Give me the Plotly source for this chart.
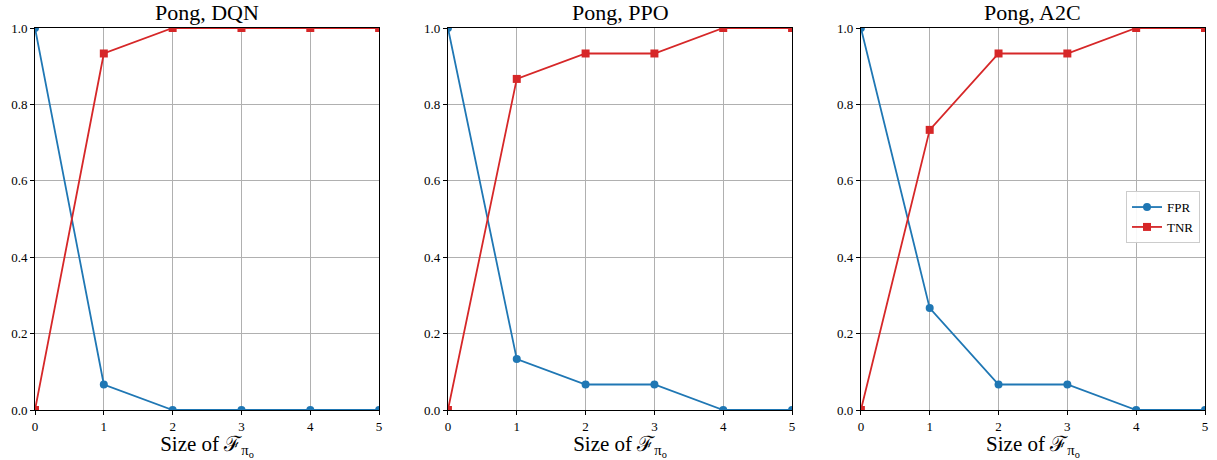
import plotly.graph_objects as go

titles = ["Pong, DQN", "Pong, PPO", "Pong, A2C"]
x_vals = [0, 1, 2, 3, 4, 5]
fpr = {
    "DQN": [1.0, 0.0667, 0.0, 0.0, 0.0, 0.0],
    "PPO": [1.0, 0.1333, 0.0667, 0.0667, 0.0, 0.0],
    "A2C": [1.0, 0.2667, 0.0667, 0.0667, 0.0, 0.0],
}
tnr = {
    "DQN": [0.0, 0.9333, 1.0, 1.0, 1.0, 1.0],
    "PPO": [0.0, 0.8667, 0.9333, 0.9333, 1.0, 1.0],
    "A2C": [0.0, 0.7333, 0.9333, 0.9333, 1.0, 1.0],
}
y_ticks = [0.0, 0.2, 0.4, 0.6, 0.8, 1.0]
y_ticktext = ["0.0", "0.2", "0.4", "0.6", "0.8", "1.0"]

W, H = 1217, 460
L, R, T, B = 35, 9, 28, 50
pw = W - L - R
doms = [(35, 380), (449, 794), (863, 1208)]

FONT = "'Liberation Serif', 'Times New Roman', serif"
BLUE = "#1f77b4"
RED = "#d62728"

fig = go.Figure()
keys = ["DQN", "PPO", "A2C"]
for i, k in enumerate(keys):
    xa = "x" if i == 0 else f"x{i+1}"
    ya = "y" if i == 0 else f"y{i+1}"
    fig.add_trace(go.Scatter(x=x_vals, y=fpr[k], mode="lines+markers", name="FPR",
                             line=dict(color=BLUE, width=1.8),
                             marker=dict(symbol="circle", size=8, color=BLUE),
                             xaxis=xa, yaxis=ya, showlegend=(i == 2)))
    fig.add_trace(go.Scatter(x=x_vals, y=tnr[k], mode="lines+markers", name="TNR",
                             line=dict(color=RED, width=1.8),
                             marker=dict(symbol="square", size=8, color=RED),
                             xaxis=xa, yaxis=ya, showlegend=(i == 2)))

layout = dict(
    width=W, height=H,
    margin=dict(l=L, r=R, t=T, b=B),
    plot_bgcolor="white", paper_bgcolor="white",
    font=dict(family=FONT, size=13, color="black"),
    legend=dict(x=(1203 - L) / pw, xanchor="right", y=0.505, yanchor="middle",
                bgcolor="rgba(255,255,255,0.9)", bordercolor="#cccccc", borderwidth=1,
                font=dict(family=FONT, size=13), tracegroupgap=2),
    annotations=[],
)
for i, (a, b) in enumerate(doms):
    sfx = "" if i == 0 else str(i + 1)
    layout[f"xaxis{sfx}"] = dict(
        domain=[(a - L) / pw, (b - L) / pw], range=[0, 5], tickvals=x_vals,
        showgrid=True, gridcolor="#b0b0b0", gridwidth=1,
        showline=True, linecolor="black", linewidth=1, mirror=True,
        ticks="outside", ticklen=4, tickcolor="black", zeroline=False,
        anchor="y" + sfx, tickfont=dict(family=FONT, size=13),
        title=dict(text="Size of ℱ<sub>π<sub>o</sub></sub>", font=dict(family=FONT, size=21), standoff=3),
    )
    layout[f"yaxis{sfx}"] = dict(
        domain=[0, 1], range=[0, 1], tickvals=y_ticks, ticktext=y_ticktext,
        showgrid=True, gridcolor="#b0b0b0", gridwidth=1,
        showline=True, linecolor="black", linewidth=1, mirror=True,
        ticks="outside", ticklen=4, tickcolor="black", zeroline=False,
        anchor="x" + sfx, tickfont=dict(family=FONT, size=13),
    )
    layout["annotations"].append(dict(
        text=titles[i], x=((a + b) / 2 - L) / pw, y=1, xref="paper", yref="paper",
        xanchor="center", yanchor="bottom", yshift=1, showarrow=False,
        font=dict(family=FONT, size=22)))

fig.update_layout(**layout)
fig.write_html("out.html")
